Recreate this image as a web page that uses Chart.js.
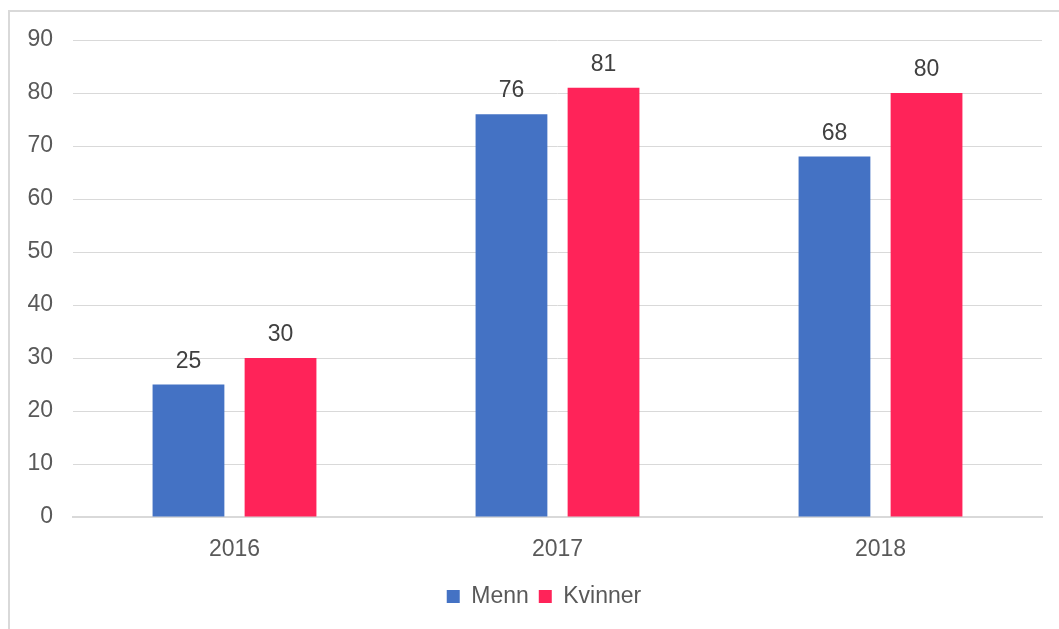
<!DOCTYPE html>
<html>
<head>
<meta charset="utf-8">
<script src="https://cdn.jsdelivr.net/npm/chart.js@4"></script>
<style>
  html, body { margin:0; padding:0; background:#fff; overflow:hidden; }
  #frame { position:absolute; left:8px; top:10px; width:1200px; height:800px; border-left:2px solid #d9d9d9; border-top:2px solid #d9d9d9; }
  #wrap { position:absolute; left:0; top:0; width:1059px; height:629px; }
</style>
</head>
<body>
<div id="frame"></div>
<div id="wrap"><canvas id="c" width="1059" height="629"></canvas></div>
<script>
var years = ["2016", "2017", "2018"];
var menn = [25, 76, 68];
var kvinner = [30, 81, 80];
var yTicks = [0, 10, 20, 30, 40, 50, 60, 70, 80, 90];

var FONT = "'Liberation Sans', Arial, sans-serif";

// values above bars
var barLabels = {
  id: "barLabels",
  afterDatasetsDraw: function(chart){
    var ctx = chart.ctx;
    ctx.save();
    ctx.font = "23px " + FONT;
    ctx.fillStyle = "#404040";
    ctx.textAlign = "center";
    ctx.textBaseline = "alphabetic";
    chart.data.datasets.forEach(function(ds, i){
      var meta = chart.getDatasetMeta(i);
      meta.data.forEach(function(bar, j){
        ctx.fillText(String(ds.data[j]), bar.x, bar.y - 17);
      });
    });
    ctx.restore();
  }
};

// legend sits a bit right of the canvas centre in the original
var legendShift = {
  id: "legendShift",
  afterLayout: function(chart){
    if (chart.legend){ chart.legend.left += 23; chart.legend.right += 23; }
  }
};

new Chart(document.getElementById("c"), {
  type: "bar",
  data: {
    labels: years,
    datasets: [
      { label: "Menn", data: menn, backgroundColor: "#4472C4" },
      { label: "Kvinner", data: kvinner, backgroundColor: "#FF2359" }
    ]
  },
  options: {
    responsive: false,
    animation: false,
    datasets: { bar: { categoryPercentage: 0.57, barPercentage: 0.78 } },
    layout: { padding: { top: 40, right: 17, bottom: 11, left: 0 } },
    plugins: {
      legend: {
        position: "bottom",
        labels: { boxWidth: 13, boxHeight: 13, padding: 10, color: "#595959",
                  font: { family: FONT, size: 23 } }
      },
      tooltip: { enabled: false }
    },
    scales: {
      x: {
        grid: { display: false },
        border: { color: "#d9d9d9", width: 2 },
        ticks: { color: "#595959", padding: 11, font: { family: FONT, size: 23 } },
        afterFit: function(s){ s.height = 58; }
      },
      y: {
        min: 0, max: 90,
        afterBuildTicks: function(s){ s.ticks = yTicks.map(function(v){ return { value: v }; }); },
        grid: { color: "#d9d9d9", lineWidth: 1, drawTicks: false },
        border: { display: false },
        ticks: { color: "#595959", padding: 20, font: { family: FONT, size: 23 } },
        afterFit: function(s){ s.width = 73; }
      }
    }
  },
  plugins: [barLabels, legendShift]
});
</script>
</body>
</html>
